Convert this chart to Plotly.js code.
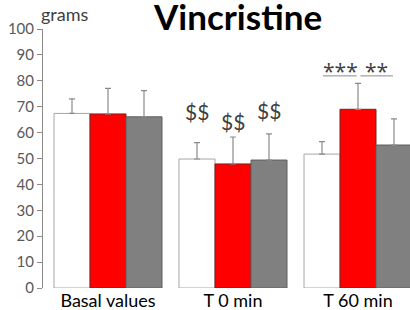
<!DOCTYPE html>
<html><head><meta charset="utf-8">
<script src="https://cdn.plot.ly/plotly-3.0.1.min.js"></script>
<style>html,body{margin:0;padding:0;background:#fff}#c{width:410px;height:310px}</style>
</head><body><div id="c"></div>
<script>
const categories = ["Basal values", "T 0 min", "T 60 min"];
const controlVals = [67.4, 49.8, 51.7];
const controlErr = [5.6, 6.3, 4.8];
const redVals = [67.2, 47.9, 69.0];
const redErr = [9.9, 10.4, 10.0];
const grayVals = [66.1, 49.4, 55.2];
const grayErr = [10.1, 10.1, 10.1];
const dollarLabels = ["$$", "$$", "$$"];
const starLabels = ["***", "**"];

const FONT = "Lato, 'Open Sans', sans-serif";
function bar(vals, err, fill, line) {
  return {
    type: "bar", x: categories, y: vals,
    marker: {color: fill, line: {color: line, width: 1}},
    error_y: {type: "data", array: err, arrayminus: err.map(() => 0), symmetric: false,
              color: "#8a8a8a", thickness: 1.2, width: 3},
    hoverinfo: "none"
  };
}
const data = [
  bar(controlVals, controlErr, "#ffffff", "#a6a6a6"),
  bar(redVals, redErr, "#ff0000", "#7a2020"),
  bar(grayVals, grayErr, "#808080", "#5e5e5e")
];
const off = (1 - 0.136) / 3;
const annotations = [
  {xref: "paper", yref: "paper", x: 0.529, y: 1.0, yshift: 13, text: "<b>Vincristine</b>", showarrow: false,
   font: {family: FONT, size: 35, color: "#000"}, xanchor: "center", yanchor: "middle"},
  {xref: "paper", yref: "paper", x: 0.06, y: 1.0, yshift: 15, text: "grams", showarrow: false,
   font: {family: FONT, size: 18, color: "#404040"}, xanchor: "center", yanchor: "middle"},
  {x: 1 - off, y: 62.5, text: dollarLabels[0], showarrow: false, yanchor: "bottom",
   font: {family: FONT, size: 21, color: "#404040"}},
  {x: 1, y: 58.5, text: dollarLabels[1], showarrow: false, yanchor: "bottom",
   font: {family: FONT, size: 21, color: "#404040"}},
  {x: 1 + off, y: 63, text: dollarLabels[2], showarrow: false, yanchor: "bottom",
   font: {family: FONT, size: 21, color: "#404040"}},
  {x: 1.856, y: 77.6, text: starLabels[0], showarrow: false, yanchor: "bottom",
   font: {family: "'Open Sans', sans-serif", size: 21, color: "#404040"}},
  {x: 2.148, y: 77.6, text: starLabels[1], showarrow: false, yanchor: "bottom",
   font: {family: "'Open Sans', sans-serif", size: 21, color: "#404040"}}
];
const shapes = [
  {type: "line", xref: "x", yref: "y", x0: 1.72, x1: 1.99, y0: 81.9, y1: 81.9, line: {color: "#8a8a8a", width: 1}},
  {type: "line", xref: "x", yref: "y", x0: 2.02, x1: 2.28, y0: 81.9, y1: 81.9, line: {color: "#8a8a8a", width: 1}}
];
const layout = {
  width: 410, height: 310,
  margin: {l: 43, r: 0, t: 29, b: 22},
  paper_bgcolor: "#fff", plot_bgcolor: "#fff",
  barmode: "group", bargap: 0.136, bargroupgap: 0,
  showlegend: false,
  xaxis: {type: "category", range: [-0.52, 2.416], showline: false, ticks: "", showgrid: false, zeroline: false,
          tickfont: {family: FONT, size: 18, color: "#000"}, fixedrange: true},
  yaxis: {range: [0, 100], dtick: 10, showline: true, linecolor: "#8a8a8a", linewidth: 1,
          ticks: "outside", ticklen: 5, tickcolor: "#8a8a8a", showgrid: false, zeroline: false,
          tickfont: {family: FONT, size: 15, color: "#595959"}, fixedrange: true},
  annotations: annotations, shapes: shapes
};
Plotly.newPlot("c", data, layout, {staticPlot: true, displayModeBar: false});
</script></body></html>
